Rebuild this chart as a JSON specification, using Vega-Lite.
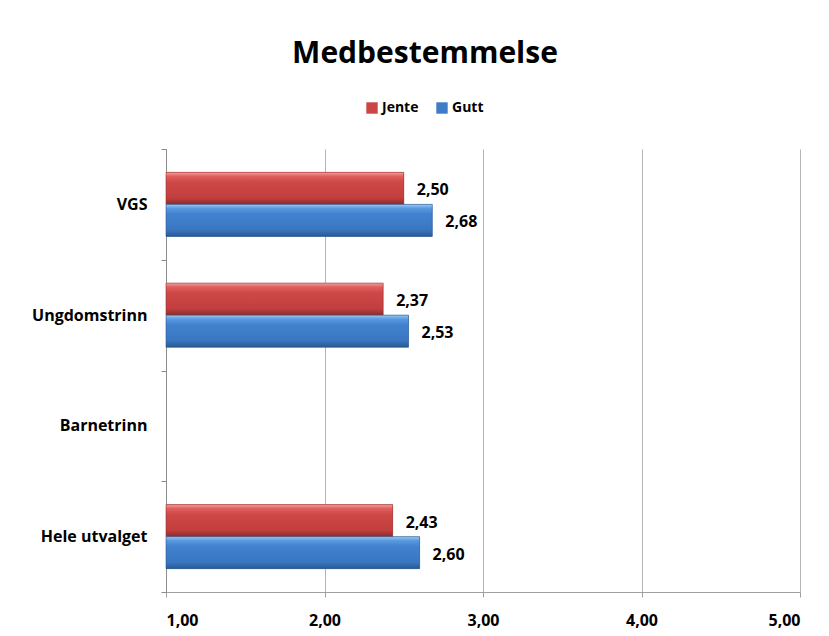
{
  "$schema": "https://vega.github.io/schema/vega-lite/v6.json",
  "autosize": "none",
  "width": 634,
  "height": 443,
  "padding": {"left": 166, "top": 149, "right": 29, "bottom": 44},
  "background": "white",
  "title": {"text": "Medbestemmelse", "font": "Open Sans", "fontSize": 30, "fontWeight": "bold", "anchor": "middle", "frame": "group", "dx": -58, "offset": 8, "baseline": "alphabetic", "color": "black"},
  "data": {"values": [
    {"kat": "VGS", "kjonn": "Jente", "verdi": 2.50},
    {"kat": "VGS", "kjonn": "Gutt", "verdi": 2.68},
    {"kat": "Ungdomstrinn", "kjonn": "Jente", "verdi": 2.37},
    {"kat": "Ungdomstrinn", "kjonn": "Gutt", "verdi": 2.53},
    {"kat": "Hele utvalget", "kjonn": "Jente", "verdi": 2.43},
    {"kat": "Hele utvalget", "kjonn": "Gutt", "verdi": 2.60}
  ]},
  "encoding": {
    "y": {"field": "kat", "type": "nominal",
      "scale": {"domain": ["VGS", "Ungdomstrinn", "Barnetrinn", "Hele utvalget"], "paddingInner": 0, "paddingOuter": 0},
      "axis": {"title": null, "tickBand": "extent", "domainColor": "#8c8c8c", "tickColor": "#8c8c8c", "tickSize": 5, "labelFont": "Open Sans", "labelFontWeight": "bold", "labelFontSize": 16, "labelColor": "black", "labelPadding": 14}},
    "yOffset": {"field": "kjonn", "type": "nominal", "scale": {"domain": ["Jente", "Gutt"], "paddingInner": 0, "paddingOuter": 0.73}}
  },
  "layer": [
    {
      "mark": {"type": "bar"},
      "encoding": {
        "x": {"field": "verdi", "type": "quantitative",
          "scale": {"domain": [1, 5], "zero": false, "nice": false},
          "axis": {"title": null, "values": [1, 2, 3, 4, 5], "format": ".2f", "grid": true, "gridColor": "#b5b5b5", "domainColor": "#a0a0a0", "tickColor": "#a0a0a0", "tickSize": 5, "labelFont": "Open Sans", "labelFontWeight": "bold", "labelFontSize": 16, "labelColor": "black", "labelPadding": 15}},
        "x2": {"datum": 1},
        "color": {"field": "kjonn", "type": "nominal",
          "scale": {"domain": ["Jente", "Gutt"], "range": ["#cc4444", "#3e7cc7"]},
          "legend": {"orient": "none", "legendX": 199, "legendY": -48, "direction": "horizontal", "title": null, "symbolType": "square", "symbolSize": 130, "symbolStrokeWidth": 0, "labelFont": "Open Sans", "labelFontWeight": "bold", "labelFontSize": 14, "labelColor": "black", "columnPadding": 16, "labelOffset": 3}}
      }
    },
    {
      "transform": [{"filter": "datum.kjonn === 'Jente'"}],
      "mark": {"type": "bar", "stroke": "#9a3030", "strokeWidth": 0.6,
        "color": {"gradient": "linear", "x1": 0, "y1": 0, "x2": 0, "y2": 1, "stops": [
          {"offset": 0, "color": "#f4a0a0"},
          {"offset": 0.12, "color": "#e06060"},
          {"offset": 0.3, "color": "#cf4848"},
          {"offset": 0.8, "color": "#c23e3e"},
          {"offset": 1, "color": "#8c2c2c"}]}},
      "encoding": {
        "x": {"field": "verdi", "type": "quantitative"},
        "x2": {"datum": 1}
      }
    },
    {
      "transform": [{"filter": "datum.kjonn === 'Gutt'"}],
      "mark": {"type": "bar", "stroke": "#2c5a94", "strokeWidth": 0.6,
        "color": {"gradient": "linear", "x1": 0, "y1": 0, "x2": 0, "y2": 1, "stops": [
          {"offset": 0, "color": "#9ccaf5"},
          {"offset": 0.12, "color": "#5c9ae0"},
          {"offset": 0.3, "color": "#4182cf"},
          {"offset": 0.8, "color": "#3a76c0"},
          {"offset": 1, "color": "#2a5890"}]}},
      "encoding": {
        "x": {"field": "verdi", "type": "quantitative"},
        "x2": {"datum": 1}
      }
    },
    {
      "mark": {"type": "text", "align": "left", "baseline": "middle", "dx": 13, "dy": 2, "font": "Open Sans", "fontWeight": "bold", "fontSize": 16, "color": "black"},
      "encoding": {
        "x": {"field": "verdi", "type": "quantitative"},
        "text": {"field": "verdi", "type": "quantitative", "format": ".2f"}
      }
    }
  ],
  "config": {
    "view": {"stroke": null},
    "locale": {"number": {"decimal": ",", "thousands": ".", "grouping": [3], "currency": ["", " kr"]}}
  }
}
